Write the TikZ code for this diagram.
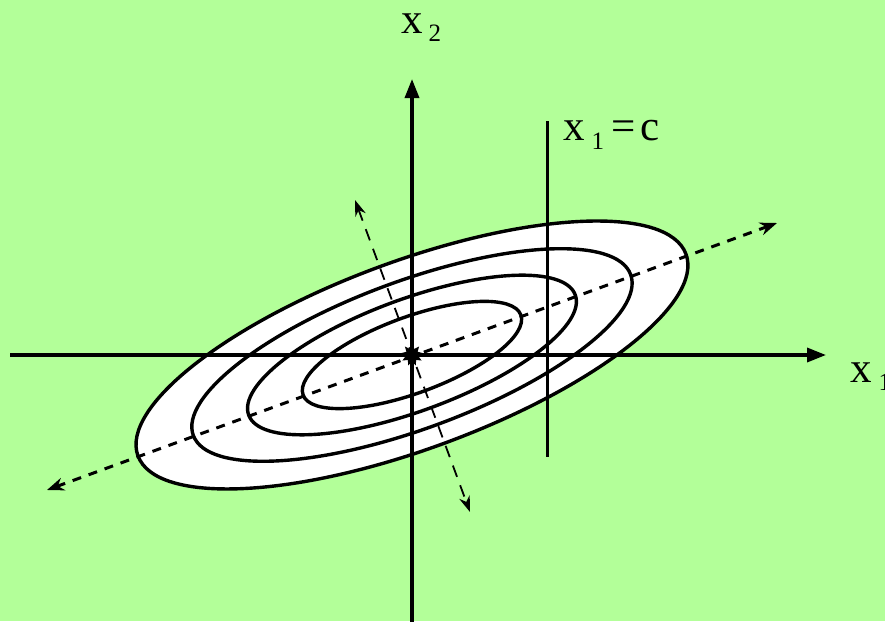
\documentclass[tikz,border=0pt]{standalone}
\usepackage{fontspec}
\setmainfont{Liberation Serif}
\usetikzlibrary{arrows.meta,shapes.geometric}
\definecolor{paleGreen}{RGB}{179,255,153}
\begin{document}
\begin{tikzpicture}[x=1pt,y=-1pt,
  axis/.style={line width=3.4pt,-{Triangle[length=19pt,width=14pt]}},
  contour/.style={line width=3.4pt},
  pcmajor/.style={line width=3pt,dash pattern=on 9pt off 8pt,{Stealth[length=17pt,width=13pt]}-{Stealth[length=17pt,width=13pt]}},
  pcminor/.style={line width=1.8pt,dash pattern=on 12pt off 9pt,{Stealth[length=16pt,width=11pt]}-{Stealth[length=16pt,width=11pt]}},
  lbl/.style={anchor=base west,inner sep=0pt,font=\fontsize{43}{48}\selectfont}]
\fill[paleGreen] (0,0) rectangle (885,621);
\useasboundingbox (0,0) rectangle (885,621);
\coordinate (O) at (412,355);
\coordinate (xl) at (10,355);
\coordinate (xr) at (826,355);
\coordinate (yb) at (412,625);
\coordinate (yt) at (412,79);
\coordinate (ctop) at (547,121);
\coordinate (cbot) at (547,457);
\coordinate (mjA) at (47,490);
\coordinate (mjB) at (777,223);
\coordinate (mnA) at (355,200);
\coordinate (mnB) at (470,512);

\draw[contour,fill=white,rotate around={20.2:(O)}] (O) ellipse [x radius=292pt,y radius=94pt];
\foreach \a/\b in {233/74,174/56,116/38}
  \draw[contour,rotate around={20.2:(O)}] (O) ellipse [x radius=\a pt,y radius=\b pt];

\draw[pcmajor] (mjA) -- (mjB);
\draw[pcminor] (mnA) -- (mnB);
\draw[axis] (xl) -- (xr);
\draw[axis] (yb) -- (yt);
\draw[line width=3pt] (ctop) -- (cbot);
\node[star,star points=9,star point ratio=1.7,fill,inner sep=0pt,minimum size=22pt] (ctr) at (O) {};

\node[lbl] (lbltwo) at (401,33) {x\hspace{6pt}\raisebox{-8pt}{\fontsize{25}{25}\selectfont 2}};
\node[lbl] (lblc) at (563,140) {x\hspace{7pt}\raisebox{-9pt}{\fontsize{25}{25}\selectfont 1}\hspace{7pt}=\hspace{5pt}c};
\node[lbl] (lblone) at (850,382) {x\hspace{7pt}\raisebox{-8pt}{\fontsize{25}{25}\selectfont 1}};
\end{tikzpicture}
\end{document}
